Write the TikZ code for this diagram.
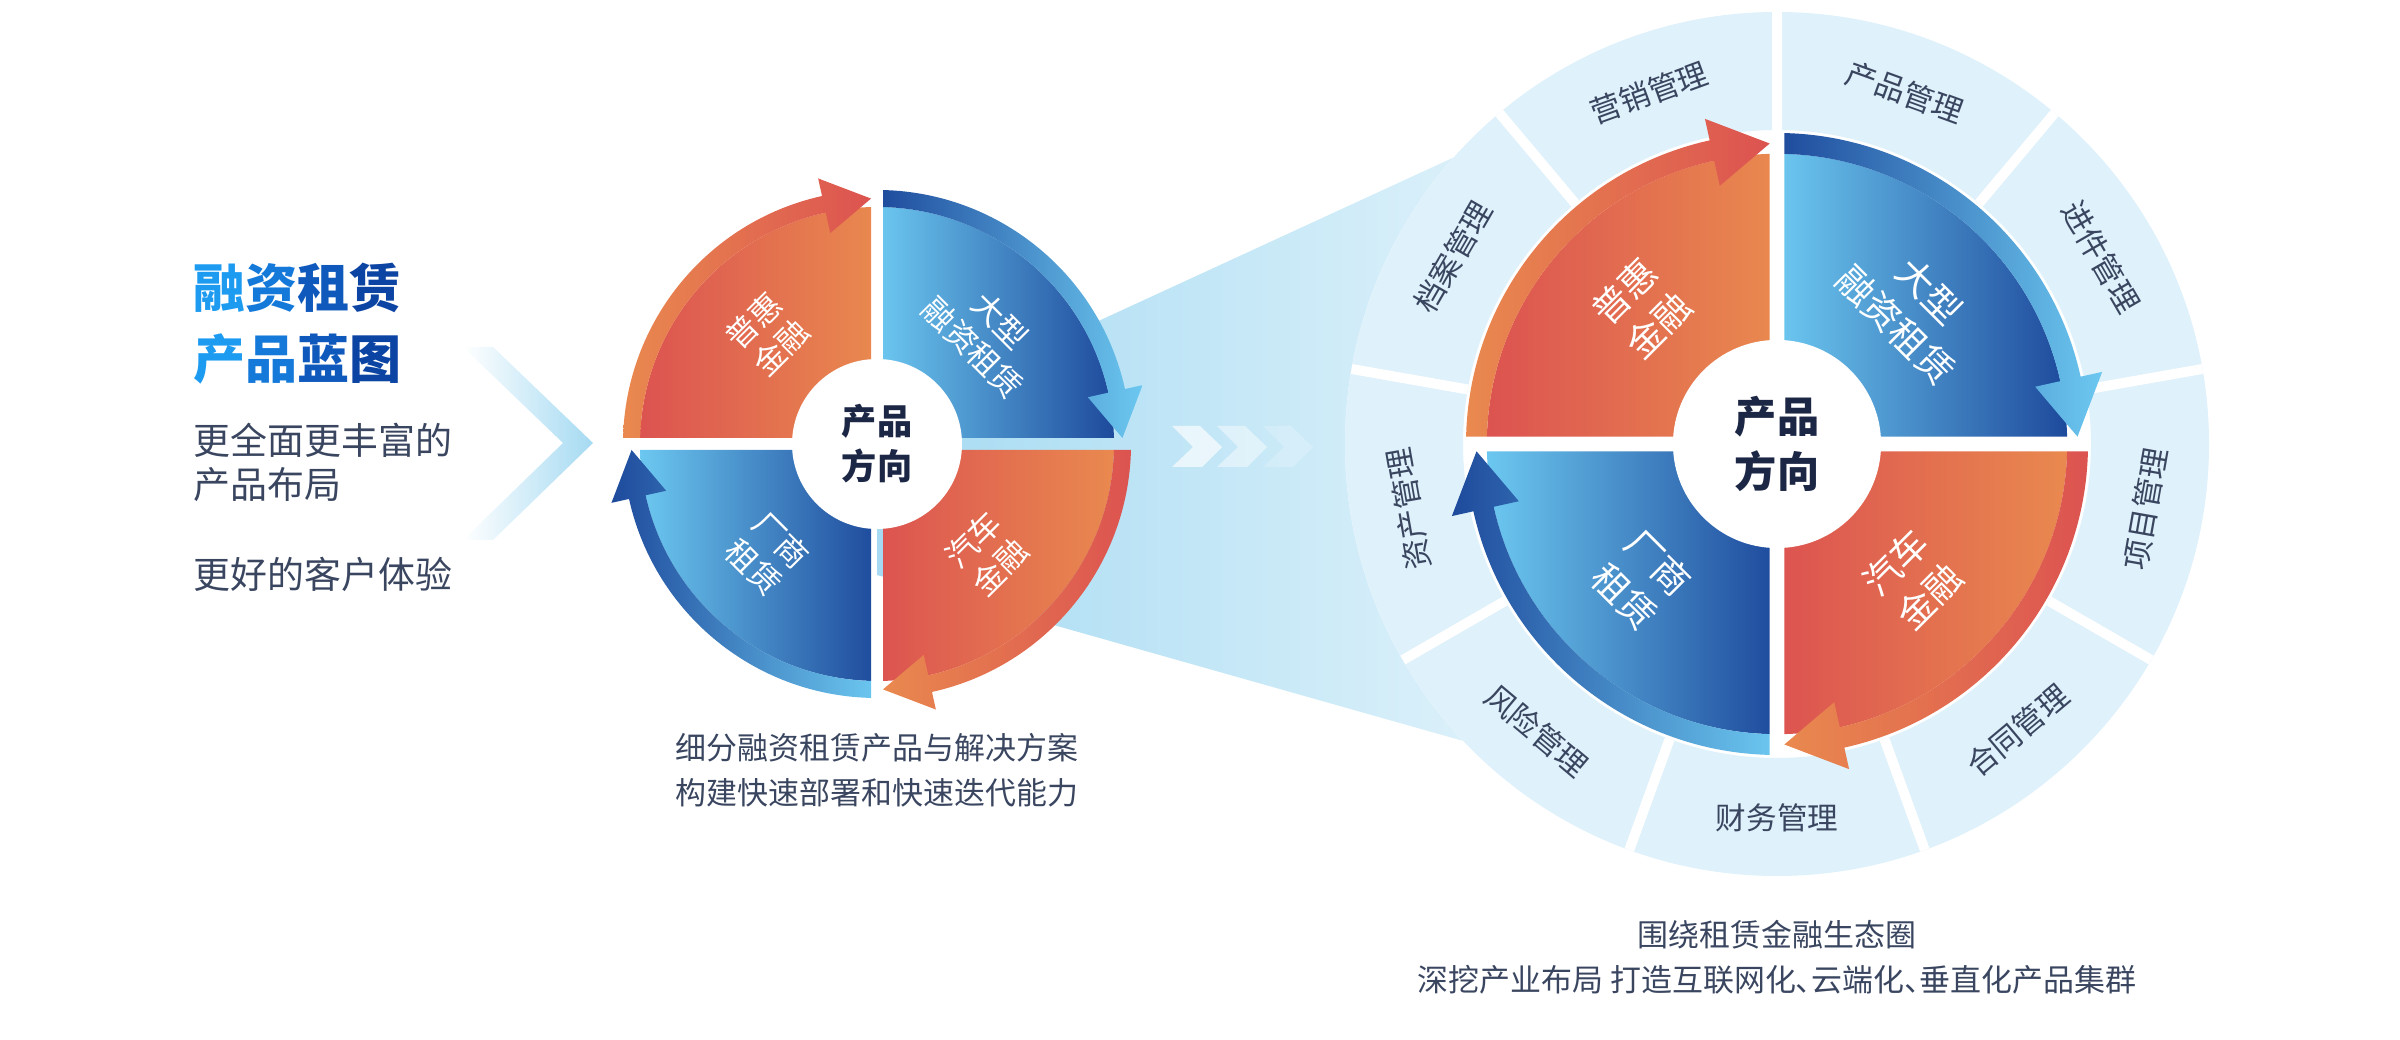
\documentclass[tikz,border=0pt]{standalone}
\usepackage{fontspec}
\setmainfont{Noto Sans CJK SC}

\definecolor{redc}{HTML}{DC5350}
\definecolor{orangec}{HTML}{E9894F}
\definecolor{lightbluec}{HTML}{6CC8F0}
\definecolor{darkbluec}{HTML}{1E4A9C}
\definecolor{ringblue}{HTML}{DFF1FA}
\definecolor{funnelblue}{HTML}{A5DAF2}
\definecolor{funnelend}{HTML}{F0F9FD}
\definecolor{textgray}{HTML}{3A4660}
\definecolor{navytext}{HTML}{1C2745}
\definecolor{tone1}{HTML}{1D9BF0}
\definecolor{tone2}{HTML}{1579DA}
\definecolor{tone3}{HTML}{1059BC}
\definecolor{tone4}{HTML}{0C44A4}

\tikzset{
    orangesector/.style={left color=redc, right color=orangec},
    orangeband/.style={left color=orangec, right color=redc},
    bluesector/.style={left color=lightbluec, right color=darkbluec},
    blueband/.style={left color=darkbluec, right color=lightbluec},
    quadlabel/.style={
        text=white,
        align=center,
        inner sep=0pt,
        font=\fontsize{9}{11}\selectfont
    },
    biglabel/.style={
        quadlabel,
        font=\fontsize{10.5}{13.7}\selectfont
    },
    coretext/.style={text=navytext, align=center, inner sep=0pt},
    ringlabel/.style={
        text=textgray,
        inner sep=0pt,
        font=\fontsize{8.7}{10}\selectfont
    },
    notetext/.style={
        text=textgray,
        align=center,
        inner sep=0pt,
        font=\fontsize{8.8}{12.9}\selectfont
    },
    headline/.style={
        anchor=west,
        inner sep=0pt,
        font=\fontsize{14.8}{18}\selectfont\bfseries
    },
    bodytext/.style={
        anchor=west,
        align=left,
        inner sep=0pt,
        text=textgray,
        font=\fontsize{10.5}{12.5}\selectfont
    },
    ringgap/.style={draw=white, line width=0.1cm}
}

\begin{document}
\begin{tikzpicture}[x=0.01cm, y=0.01cm]
    \useasboundingbox (0,0) rectangle (2400,1040);
    \coordinate (smallhub) at (877,596);
    \coordinate (bighub) at (1777,596);

    \node[headline] (title1) at (193,752) {\textcolor{tone1}{融}\textcolor{tone2}{资}\textcolor{tone3}{租}\textcolor{tone4}{赁}};
    \node[headline] (title2) at (193,681) {\textcolor{tone1}{产}\textcolor{tone2}{品}\textcolor{tone3}{蓝}\textcolor{tone4}{图}};
    \node[bodytext] (layout) at (193,578) {更全面更丰富的\\产品布局};
    \node[bodytext] (experience) at (193,466) {更好的客户体验};

    \shade[left color=white, right color=funnelblue] (463,693) -- (493,693) -- (593,597)
        -- (493,500) -- (463,500) -- (563,597) -- cycle;

    % funnel between the two wheels
    \shade[left color=funnelblue, right color=funnelend] (877,617) -- (1700,996) -- (1700,232) -- (877,465) -- cycle;
    \foreach \x/\o in {1172/0.65, 1217/0.45, 1263/0.2}
        \fill[white, opacity=\o] (\x,614) -- ++(28,0) -- ++(22,-21) -- ++(-20,-20) -- ++(-30,0) -- ++(21,20) -- cycle;

    \begin{scope}[shift={(bighub)}]
        \fill[white] (0,0) circle (432);
        \fill[ringblue, even odd rule] (0,0) circle (432) circle (314);
        \foreach \a in {90,50,...,-230}
            \draw[ringgap] (\a:314) -- (\a:432);
    \end{scope}

    \foreach \cx/\k in {877/1, 1777/1.2244} {
        \begin{scope}[shift={(\cx,596)}, scale=\k]
            \clip (6,6) rectangle (300,300) (-6,6) rectangle (-300,300)
                (-6,-6) rectangle (-300,-300) (6,-6) rectangle (300,-300);
            \foreach \s/\sect/\band in {180/orangesector/orangeband, 90/bluesector/blueband,
                    0/orangesector/orangeband, -90/bluesector/blueband} {
                \shade[\sect] (0,0) -- (\s:237) arc[start angle=\s, end angle=\s-90, radius=237] -- cycle;
                \shade[\band] (\s:254) arc[start angle=\s, end angle=\s-77.5, radius=254]
                    -- (\s-77.5:272) -- (\s-88.6:245.5) -- (\s-77.5:216) -- (\s-77.5:237)
                    arc[start angle=\s-77.5, end angle=\s, radius=237] -- cycle;
            }
        \end{scope}
        \fill[white] (\cx,596) circle ({85*\k});
    }

    \node[quadlabel, rotate=45] (puhuismall) at ([shift={(135:155)}]smallhub) {普惠\\金融};
    \node[quadlabel, rotate=-45] (daxingsmall) at ([shift={(45:155)}]smallhub) {大型\\融资租赁};
    \node[quadlabel, rotate=45] (qichesmall) at ([shift={(-45:155)}]smallhub) {汽车\\金融};
    \node[quadlabel, rotate=-45] (changshangsmall) at ([shift={(-135:155)}]smallhub) {厂商\\租赁};
    \node[coretext, font=\fontsize{10}{12.8}\selectfont\bfseries] (smallcore) at (smallhub) {产品\\方向};

    \node[biglabel, rotate=45] (puhuibig) at ([shift={(135:192)}]bighub) {普惠\\金融};
    \node[biglabel, rotate=-45] (daxingbig) at ([shift={(45:192)}]bighub) {大型\\融资租赁};
    \node[biglabel, rotate=45] (qichebig) at ([shift={(-45:192)}]bighub) {汽车\\金融};
    \node[biglabel, rotate=-45] (changshangbig) at ([shift={(-135:192)}]bighub) {厂商\\租赁};
    \node[coretext, font=\fontsize{12}{15.6}\selectfont\bfseries] (bigcore) at (bighub) {产品\\方向};

    \foreach \a/\r/\t [count=\i] in {110/20/营销管理, 70/-20/产品管理, 30/-60/进件管理,
            -10/80/项目管理, -50/40/合同管理, -90/0/财务管理, -130/-40/风险管理,
            190/100/资产管理, 150/60/档案管理}
        \node[ringlabel, rotate=\r] (module\i) at ([shift={(\a:374)}]bighub) {\t};

    \node[notetext] (smallnote) at (877,270) {细分融资租赁产品与解决方案\\构建快速部署和快速迭代能力};
    \node[notetext] (bignote) at (1777,83) {围绕租赁金融生态圈\\深挖产业布局 打造互联网化\makebox[0.5em][l]{、}云端化\makebox[0.5em][l]{、}垂直化产品集群};

\end{tikzpicture}
\end{document}
